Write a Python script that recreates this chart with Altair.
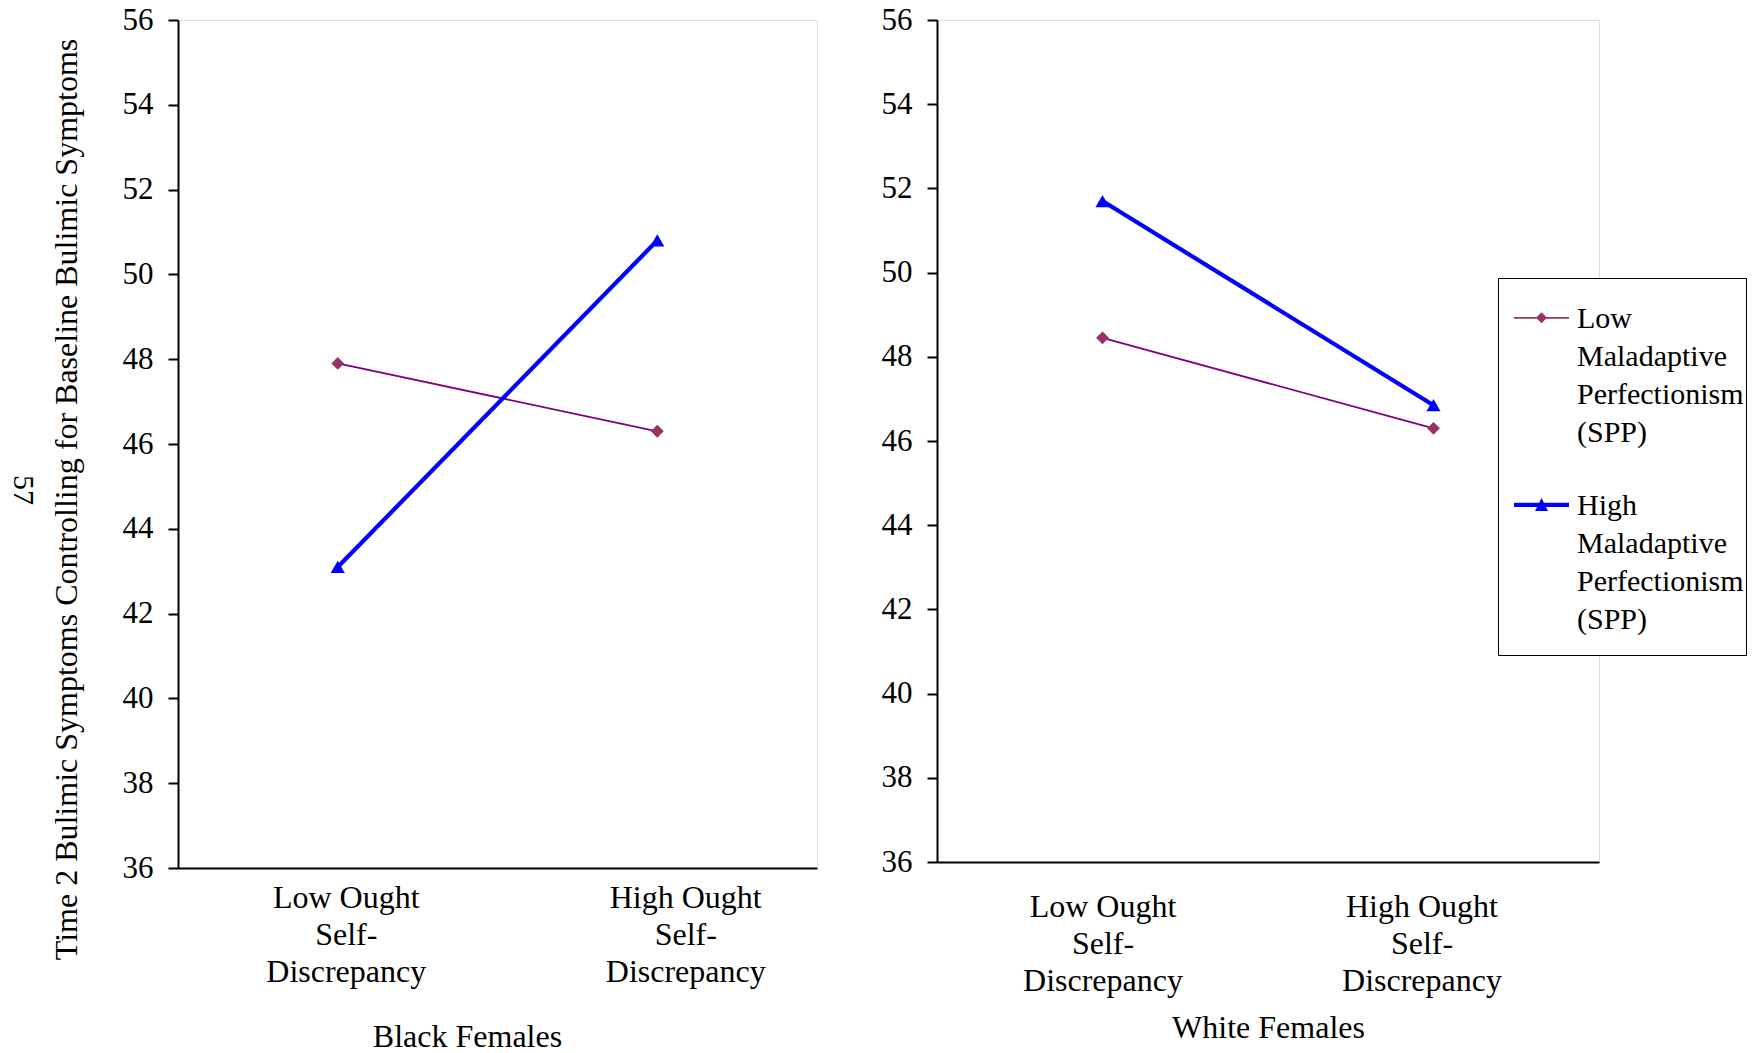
import altair as alt
import pandas as pd

# Categories on the x axis (line breaks are kept in the labels)
categories = ["Low Ought\nSelf-\nDiscrepancy", "High Ought\nSelf-\nDiscrepancy"]
series_names = ["Low Maladaptive Perfectionism (SPP)", "High Maladaptive Perfectionism (SPP)"]

# Estimated Time 2 bulimic symptom scores
black_low_spp = [47.9, 46.3]
black_high_spp = [43.1, 50.8]
white_low_spp = [48.45, 46.3]
white_high_spp = [51.7, 46.85]

y_ticks = list(range(36, 57, 2))
page_number = "57"

FONT = "Liberation Serif"
TITLE_FS = 32
XLABEL_FS = 32
YLABEL_FS = 31
LEGEND_FS = 30


def panel_frame(low_vals, high_vals):
    rows = []
    for name, vals in zip(series_names, [low_vals, high_vals]):
        for cat, v in zip(categories, vals):
            rows.append({"discrepancy": cat, "series": name, "score": v})
    return pd.DataFrame(rows)


# Legend symbols: a line segment with its marker; one path unit = 24 px
def legend_path_low(dy=0.575, half=1.146, t=0.0375, d=0.229):
    return (f"M-{half},{dy - t:.4f}L{half},{dy - t:.4f}L{half},{dy + t:.4f}L-{half},{dy + t:.4f}Z "
            f"M0,{dy - d:.4f}L{d:.4f},{dy:.4f}L0,{dy + d:.4f}L-{d:.4f},{dy:.4f}Z")


def legend_path_high(dy=0.575, half=1.146, t=0.0875, w=0.271, up=0.279, dn=0.2625, bottom=6.75):
    # the final lone move-to only widens the entry's bounds (extra room below the text)
    return (f"M-{half},{dy - t:.4f}L{half},{dy - t:.4f}L{half},{dy + t:.4f}L-{half},{dy + t:.4f}Z "
            f"M0,{dy - up:.4f}L{w:.4f},{dy + dn:.4f}L-{w:.4f},{dy + dn:.4f}Z M0,{bottom}")


line_colors = ["#800080", "#0000FF"]
line_widths = [1.8, 4.2]
marker_colors = ["#993366", "#0000FF"]


def panel(df, width, height, x_title, x_axis_kw, y_axis_kw, extra_layers=()):
    base = alt.Chart(df)
    x_enc = alt.X(
        "discrepancy:N",
        sort=categories,
        scale=alt.Scale(padding=0.5),
        axis=alt.Axis(
            title=x_title,
            labelExpr="split(datum.label, '\\n')",
            labelAngle=0,
            labelBaseline="top",
            labelLineHeight=37,
            ticks=False,
            tickSize=0,
            domainColor="black",
            domainWidth=2,
            labelFont=FONT,
            labelFontSize=XLABEL_FS,
            labelColor="black",
            titleFont=FONT,
            titleFontSize=TITLE_FS,
            titleFontWeight="normal",
            titleColor="black",
            titleBaseline="top",
            **x_axis_kw,
        ),
    )
    y_enc = alt.Y(
        "score:Q",
        scale=alt.Scale(domain=[36, 56], nice=False, zero=False),
        axis=alt.Axis(
            values=y_ticks,
            grid=False,
            tickSize=10,
            tickWidth=2,
            tickColor="black",
            domainColor="black",
            domainWidth=2,
            labelPadding=15,
            labelFont=FONT,
            labelFontSize=YLABEL_FS,
            labelColor="black",
            titleFont=FONT,
            titleFontSize=TITLE_FS,
            titleFontWeight="normal",
            titleColor="black",
            **y_axis_kw,
        ),
    )
    lines = base.mark_line().encode(
        x=x_enc,
        y=y_enc,
        color=alt.Color("series:N", scale=alt.Scale(domain=series_names, range=line_colors), legend=None),
        strokeWidth=alt.StrokeWidth("series:N", scale=alt.Scale(domain=series_names, range=line_widths), legend=None),
    )
    low_pts = base.transform_filter(alt.datum.series == series_names[0]).mark_point(
        shape="diamond", filled=True, size=165, opacity=1, color=marker_colors[0]
    ).encode(x=x_enc, y=y_enc)
    high_pts = base.transform_filter(alt.datum.series == series_names[1]).mark_point(
        shape="triangle-up", filled=True, size=200, opacity=1, color=marker_colors[1]
    ).encode(x=x_enc, y=y_enc)
    layers = [lines, low_pts, high_pts]
    for make in extra_layers:
        layers.append(make(base, x_enc, y_enc))
    return alt.layer(*layers).properties(width=width, height=height)


def page_layer(base, x_enc, y_enc):
    return alt.Chart(pd.DataFrame({"page": [page_number]})).mark_text(
        angle=90, font=FONT, fontSize=30, color="black"
    ).encode(text="page:N", x=alt.value(-155), y=alt.value(470))


def legend_layer(base, x_enc, y_enc):
    legend = alt.Legend(
        title=None,
        orient="none",
        legendX=561,
        legendY=258,
        padding=2,
        strokeColor="black",
        fillColor="white",
        labelExpr="split(datum.label, ' ')",
        labelBaseline="top",
        labelFont=FONT,
        labelFontSize=LEGEND_FS,
        labelColor="black",
        labelLimit=400,
        labelOffset=11.5,
        symbolOffset=17.5,
        symbolSize=2304,
        symbolStrokeWidth=0,
        rowPadding=19,
    )
    return base.transform_filter("false").mark_point(filled=True, opacity=1).encode(
        x=x_enc,
        y=y_enc,
        shape=alt.Shape("series:N", scale=alt.Scale(domain=series_names, range=[legend_path_low(), legend_path_high()]), legend=legend),
        fill=alt.Fill("series:N", scale=alt.Scale(domain=series_names, range=marker_colors), legend=legend),
    )


def label_shift(first, second):
    return {"condition": {"test": "datum.index > 0.5", "value": second}, "value": first}


left = panel(
    panel_frame(black_low_spp, black_high_spp),
    639, 848, "Black Females",
    dict(labelPadding=14, titlePadding=34, titleX=289, labelOffset=label_shift(8, 28)),
    dict(title="Time 2 Bulimic Symptoms Controlling for Baseline Bulimic Symptoms", titlePadding=39, titleY=479),
    extra_layers=[page_layer],
)

right = panel(
    panel_frame(white_low_spp, white_high_spp),
    662, 842, "White Females",
    dict(labelPadding=29, titlePadding=16, labelOffset=label_shift(0, -12)),
    dict(title=None),
    extra_layers=[legend_layer],
)

chart = alt.hconcat(left, right, spacing=62).resolve_scale(
    x="independent", y="independent"
).resolve_legend(fill="independent", shape="independent").configure_view(
    stroke=None
).configure(
    background="white",
    padding={"left": 7, "top": 3, "right": 5, "bottom": 5},
    style={"guide-label": {"lineHeight": 38}},
)

chart.save("out.html", embed_options={"renderer": "svg", "actions": False})
